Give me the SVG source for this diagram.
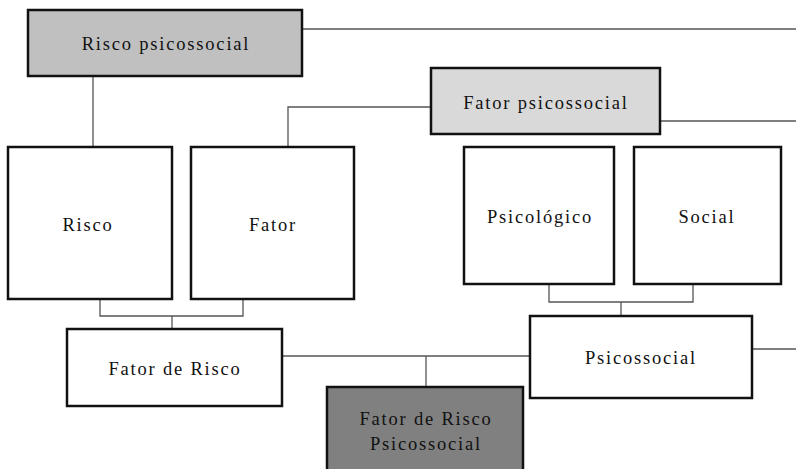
<svg xmlns="http://www.w3.org/2000/svg" width="796" height="469" viewBox="0 0 796 469">
<style>
.box{stroke:#111;stroke-width:2.5;}
.w{fill:#fff;}
.g1{fill:#c0c0c0;}
.g2{fill:#d9d9d9;}
.g3{fill:#808080;}
.t{font-family:"Liberation Serif","Times New Roman",serif;font-size:18.5px;letter-spacing:1.8px;fill:#111;text-anchor:middle;}
.c{fill:none;stroke:#555;stroke-width:1.3;}
</style>
<rect width="796" height="469" fill="#fff"/>
<g id="connectors">
<polyline class="c" points="302,29 796,29"/>
<polyline class="c" points="93,76 93,147"/>
<polyline class="c" points="288,147 288,107 432,107"/>
<polyline class="c" points="660,121 796,121"/>
<polyline class="c" points="100,299 100,316 243,316 243,299"/>
<polyline class="c" points="172,316 172,329"/>
<polyline class="c" points="549,284 549,302 693,302 693,284"/>
<polyline class="c" points="621,302 621,316"/>
<polyline class="c" points="752,349 796,349"/>
<polyline class="c" points="282,356 530,356"/>
<polyline class="c" points="426,356 426,387"/>
</g>
<g id="risco-psicossocial">
<rect class="box g1" x="28" y="10" width="274" height="66"/>
<text class="t" x="166" y="50">Risco psicossocial</text>
</g>
<g id="fator-psicossocial">
<rect class="box g2" x="431" y="68" width="229" height="66"/>
<text class="t" x="546" y="109">Fator psicossocial</text>
</g>
<g id="risco">
<rect class="box w" x="8" y="147" width="164" height="152"/>
<text class="t" x="88" y="231">Risco</text>
</g>
<g id="fator">
<rect class="box w" x="191" y="147" width="163" height="152"/>
<text class="t" x="273" y="231">Fator</text>
</g>
<g id="psicologico">
<rect class="box w" x="464" y="147" width="150" height="137"/>
<text class="t" x="540" y="223">Psicológico</text>
</g>
<g id="social">
<rect class="box w" x="634" y="147" width="147" height="137"/>
<text class="t" x="707" y="223">Social</text>
</g>
<g id="fator-de-risco">
<rect class="box w" x="67" y="329" width="215" height="77"/>
<text class="t" x="175" y="375">Fator de Risco</text>
</g>
<g id="psicossocial">
<rect class="box w" x="530" y="316" width="222" height="82"/>
<text class="t" x="641" y="364">Psicossocial</text>
</g>
<g id="fator-de-risco-psicossocial">
<rect class="box g3" x="327" y="387" width="196" height="95"/>
<text class="t" x="426" y="425">Fator de Risco</text>
<text class="t" x="426" y="450">Psicossocial</text>
</g>
</svg>
